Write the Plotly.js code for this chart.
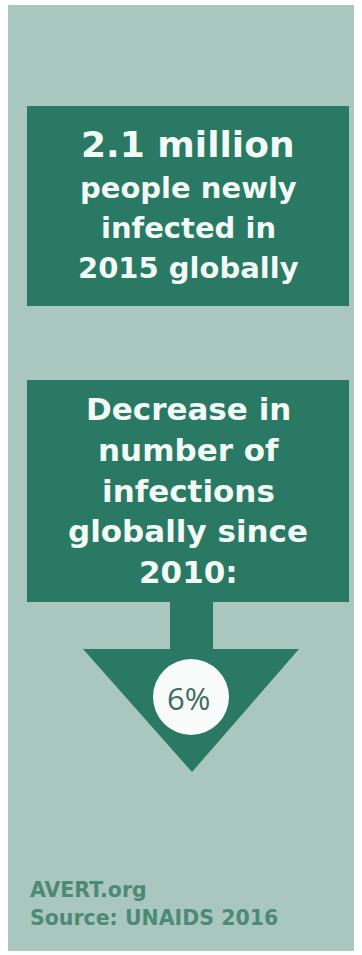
<!DOCTYPE html>
<html>
<head>
<meta charset="utf-8">
<script src="https://cdn.plot.ly/plotly-3.0.1.min.js"></script>
<style>
  html, body { margin: 0; padding: 0; background: #ffffff; }
  #chart { width: 362px; height: 955px; }
</style>
</head>
<body>
<div id="chart"></div>
<script>
// ---- content (data) ----
const headlineLines = ["2.1 million", "people newly", "infected in", "2015 globally"];
const decreaseLines = ["Decrease in", "number of", "infections", "globally since", "2010:"];
const decreasePercent = 6;
const creditLines = ["AVERT.org", "Source: UNAIDS 2016"];

// ---- layout geometry (pixel space, y downward) ----
const W = 362, H = 955;
const headlineBaselines = [157, 198, 238, 278];
const headlineSizes = [36, 29, 29, 29];
const decreaseBaselines = [420, 461, 502, 542, 583];
const decreaseSize = 31;
const creditBaselines = [897, 925];
const creditSize = 20.5;

const COL_BG = "#aac7bf";
const COL_BOX = "#2a7964";
const COL_TEXT = "#f1faf4";
const COL_CREDIT = "#4d8a76";
const COL_PCT = "#3d6d60";
const FONT = "DejaVu Sans";

function yCenter(baseline, size) { return baseline - 0.36 * size; }

const annotations = [];
headlineLines.forEach((t, i) => {
  annotations.push({
    x: 188, y: yCenter(headlineBaselines[i], headlineSizes[i]), xref: "x", yref: "y",
    text: t, showarrow: false, xanchor: "center", yanchor: "middle",
    font: { family: FONT, size: headlineSizes[i], color: COL_TEXT, weight: 700 }
  });
});
decreaseLines.forEach((t, i) => {
  annotations.push({
    x: 188, y: yCenter(decreaseBaselines[i], decreaseSize), xref: "x", yref: "y",
    text: t, showarrow: false, xanchor: "center", yanchor: "middle",
    font: { family: FONT, size: decreaseSize, color: COL_TEXT, weight: 700 }
  });
});
annotations.push({
  x: 188, y: 698, xref: "x", yref: "y",
  text: decreasePercent + "%", showarrow: false, xanchor: "center", yanchor: "middle",
  font: { family: "Open Sans", size: 31, color: COL_PCT, weight: 500 }
});
creditLines.forEach((t, i) => {
  annotations.push({
    x: 28, y: yCenter(creditBaselines[i], creditSize), xref: "x", yref: "y",
    text: t, showarrow: false, xanchor: "left", yanchor: "middle",
    font: { family: FONT, size: creditSize, color: COL_CREDIT, weight: 700 }
  });
});

const shapes = [
  // panel
  { type: "rect", xref: "x", yref: "y", x0: 8, x1: 354, y0: 5, y1: 951, fillcolor: COL_BG, line: { width: 0 }, layer: "below" },
  // headline box
  { type: "rect", xref: "x", yref: "y", x0: 27, x1: 349, y0: 106, y1: 306, fillcolor: COL_BOX, line: { width: 0 }, layer: "below" },
  // decrease box
  { type: "rect", xref: "x", yref: "y", x0: 27, x1: 349, y0: 380, y1: 602, fillcolor: COL_BOX, line: { width: 0 }, layer: "below" },
  // arrow stem
  { type: "rect", xref: "x", yref: "y", x0: 170, x1: 213, y0: 601, y1: 650, fillcolor: COL_BOX, line: { width: 0 }, layer: "below" },
  // arrow head
  { type: "path", xref: "x", yref: "y", path: "M 83 649 L 299 649 L 192 772 Z", fillcolor: COL_BOX, line: { width: 0 }, layer: "below" },
  // circle
  { type: "circle", xref: "x", yref: "y", x0: 153, x1: 229, y0: 659, y1: 735, fillcolor: "#f8fbf9", line: { width: 0 }, layer: "below" }
];

const layout = {
  width: W, height: H,
  margin: { l: 0, r: 0, t: 0, b: 0, pad: 0 },
  paper_bgcolor: "#ffffff", plot_bgcolor: "rgba(0,0,0,0)",
  xaxis: { range: [0, W], visible: false, fixedrange: true },
  yaxis: { range: [H, 0], visible: false, fixedrange: true },
  showlegend: false,
  shapes: shapes,
  annotations: annotations
};

Plotly.newPlot("chart", [], layout, { staticPlot: true, displayModeBar: false });
</script>
</body>
</html>
